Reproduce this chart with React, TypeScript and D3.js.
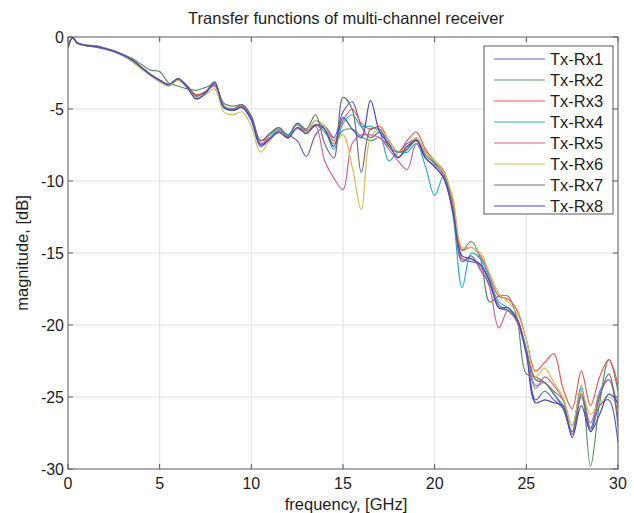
import { useEffect, useRef } from "react";
import * as d3 from "d3";

// frequency samples in GHz (shared by all channels)
const freq = [0, 0.25, 0.5, 1, 1.5, 2, 2.5, 3, 3.5, 4, 4.5, 5, 5.5, 6, 6.5, 7, 7.5, 8, 8.5, 9, 9.5, 10,
  10.5, 11, 11.5, 12, 12.5, 13, 13.5, 14, 14.5, 15, 15.5, 16, 16.5, 17, 17.5, 18, 18.5, 19, 19.5, 20,
  20.5, 21, 21.5, 22, 22.5, 23, 23.5, 24, 24.5, 25, 25.5, 26, 26.5, 27, 27.5, 28, 28.5, 29, 29.5, 30];

const rx1 = [-0.7, -0.05, -0.45, -0.6, -0.7, -0.85, -1.0, -1.3, -1.7, -2.2,
  -2.7, -3.1, -3.4, -3.0, -3.5, -4.3, -3.9, -3.2, -4.9, -5.1,
  -4.9, -5.8, -7.6, -7.1, -6.6, -6.8, -7.2, -8.3, -6.8, -6.2,
  -7.0, -5.2, -4.5, -6.2, -7.0, -6.6, -7.2, -8.0, -7.4, -7.1,
  -8.4, -9.0, -9.8, -12.0, -15.4, -15.6, -15.8, -17.0, -18.8, -19.0,
  -19.8, -21.8, -25.2, -24.6, -25.2, -25.8, -27.6, -25.0, -27.4, -25.6, -25.2, -28.2];
const rx2 = [-0.7, -0.05, -0.4, -0.55, -0.6, -0.75, -0.95, -1.2, -1.5, -1.9,
  -2.3, -2.4, -3.2, -3.4, -3.6, -3.7, -3.5, -3.3, -4.6, -4.8,
  -4.7, -5.5, -7.2, -6.8, -6.3, -6.8, -6.0, -6.5, -6.1, -6.6,
  -7.4, -6.5, -6.4, -6.9, -7.2, -7.0, -7.6, -8.3, -7.8, -7.0,
  -8.0, -8.7, -9.4, -11.4, -14.8, -14.2, -15.4, -18.4, -18.0, -18.0,
  -19.6, -23.4, -23.6, -24.0, -24.6, -25.2, -27.0, -24.2, -29.8, -25.4, -22.4, -24.6];
const rx3 = [-0.7, -0.05, -0.4, -0.6, -0.65, -0.8, -1.0, -1.25, -1.6, -2.1,
  -2.6, -3.0, -3.3, -2.9, -3.4, -4.0, -3.8, -3.4, -4.8, -5.0,
  -4.8, -5.6, -7.2, -7.0, -6.5, -7.0, -6.3, -6.5, -6.1, -6.2,
  -7.2, -5.8, -5.0, -6.0, -6.4, -6.2, -7.2, -8.0, -7.2, -6.6,
  -7.8, -8.6, -9.3, -11.6, -14.8, -14.6, -15.2, -16.6, -18.0, -18.2,
  -19.0, -21.0, -23.2, -22.6, -22.0, -24.4, -25.8, -23.2, -25.6, -23.6, -22.4, -24.2];
const rx4 = [-0.7, -0.05, -0.4, -0.6, -0.65, -0.8, -1.0, -1.3, -1.6, -2.1,
  -2.6, -3.0, -3.3, -2.9, -3.4, -4.1, -3.8, -3.3, -4.9, -5.0,
  -4.8, -5.8, -7.4, -7.0, -6.4, -6.8, -6.1, -6.6, -5.8, -6.4,
  -7.8, -6.0, -5.4, -6.2, -6.2, -6.6, -8.6, -8.0, -8.0, -7.4,
  -9.0, -11.0, -9.6, -12.4, -17.4, -15.0, -15.4, -16.8, -18.4, -18.8,
  -19.6, -21.6, -24.2, -24.0, -24.8, -25.6, -27.4, -24.4, -27.2, -24.6, -23.8, -25.8];
const rx5 = [-0.7, -0.05, -0.4, -0.6, -0.65, -0.8, -1.0, -1.25, -1.6, -2.1,
  -2.6, -3.0, -3.35, -2.9, -3.4, -4.1, -3.8, -3.3, -4.8, -5.0,
  -4.8, -5.6, -7.4, -7.0, -6.6, -7.0, -6.3, -6.7, -6.2, -8.6,
  -9.8, -10.6, -7.4, -6.8, -6.8, -7.0, -7.8, -8.6, -9.2, -7.4,
  -8.4, -9.0, -9.8, -12.0, -15.4, -15.4, -16.0, -17.4, -20.2, -19.0,
  -19.8, -22.0, -24.4, -23.6, -24.2, -25.2, -27.6, -24.8, -26.8, -24.8, -23.8, -26.4];
const rx6 = [-0.7, -0.05, -0.4, -0.6, -0.65, -0.8, -1.0, -1.3, -1.7, -2.2,
  -2.7, -3.1, -3.4, -3.0, -3.5, -4.2, -4.0, -3.6, -5.2, -5.4,
  -5.2, -6.2, -8.0, -7.2, -6.6, -6.9, -6.4, -6.6, -5.8, -6.2,
  -7.4, -6.8, -9.0, -12.0, -7.0, -6.4, -7.2, -8.0, -7.6, -7.0,
  -8.0, -8.6, -9.4, -11.2, -14.6, -14.6, -15.0, -16.4, -17.8, -18.4,
  -19.2, -21.0, -23.6, -23.0, -24.0, -25.0, -27.0, -24.6, -26.2, -25.4, -25.0, -25.6];
const rx7 = [-0.7, -0.05, -0.4, -0.6, -0.65, -0.8, -1.0, -1.25, -1.6, -2.1,
  -2.6, -3.0, -3.3, -2.9, -3.4, -4.1, -3.8, -3.3, -4.8, -5.0,
  -4.7, -5.5, -7.2, -6.7, -6.3, -6.9, -6.0, -6.4, -5.4, -7.4,
  -8.4, -4.2, -5.0, -9.4, -6.4, -6.4, -7.6, -8.0, -7.8, -7.2,
  -8.2, -8.8, -9.6, -12.0, -15.6, -15.2, -16.2, -17.2, -18.6, -19.0,
  -19.6, -21.8, -23.8, -24.0, -24.8, -25.8, -27.4, -24.8, -27.2, -25.0, -23.4, -27.0];
const rx8 = [-0.7, -0.05, -0.4, -0.6, -0.65, -0.8, -1.0, -1.25, -1.6, -2.1,
  -2.6, -3.0, -3.3, -2.9, -3.5, -4.3, -3.9, -3.1, -4.9, -5.1,
  -4.9, -5.7, -7.5, -7.1, -6.6, -7.0, -6.3, -6.7, -6.1, -6.4,
  -7.6, -5.6, -6.4, -7.0, -4.4, -6.6, -7.4, -8.4, -7.6, -7.2,
  -8.4, -9.0, -9.8, -12.2, -15.2, -15.4, -15.8, -17.0, -18.8, -18.8,
  -19.6, -22.0, -25.4, -25.2, -25.4, -25.6, -27.8, -25.6, -27.4, -26.2, -24.8, -25.4];

const names = ["Tx-Rx1", "Tx-Rx2", "Tx-Rx3", "Tx-Rx4", "Tx-Rx5", "Tx-Rx6", "Tx-Rx7", "Tx-Rx8"];
const colors = ["#6060d8", "#5f8f6e", "#f2594f", "#2aaed0", "#dc5f9c", "#d3c052", "#727272", "#4848c4"];
const xTicks = [0, 5, 10, 15, 20, 25, 30];
const yTicks = [0, -5, -10, -15, -20, -25, -30];

const W = 634;
const H = 513;
const margin = { top: 37, right: 16, bottom: 44, left: 68 };

export default function App() {
  const svgRef = useRef<SVGSVGElement>(null);

  useEffect(() => {
    const svg = d3.select(svgRef.current);
    svg.selectAll("*").remove();

    const width = W - margin.left - margin.right;
    const height = H - margin.top - margin.bottom;
    const font = "Liberation Sans, Arial, sans-serif";
    const textColor = "#1e1e1e";

    const x = d3.scaleLinear().domain([0, 30]).range([margin.left, margin.left + width]);
    const y = d3.scaleLinear().domain([-30, 0]).range([margin.top + height, margin.top]);

    svg.append("rect").attr("width", W).attr("height", H).attr("fill", "#fff");

    // grid
    const grid = svg.append("g").attr("stroke", "#e2e2e2").attr("stroke-width", 1);
    grid.selectAll(".gx").data(xTicks.slice(1, -1)).enter().append("line")
      .attr("x1", (d) => x(d)).attr("x2", (d) => x(d))
      .attr("y1", margin.top).attr("y2", margin.top + height);
    grid.selectAll(".gy").data(yTicks.slice(1, -1)).enter().append("line")
      .attr("y1", (d) => y(d)).attr("y2", (d) => y(d))
      .attr("x1", margin.left).attr("x2", margin.left + width);

    svg.append("clipPath").attr("id", "plot-clip").append("rect")
      .attr("x", margin.left).attr("y", margin.top).attr("width", width).attr("height", height);

    const series = [rx1, rx2, rx3, rx4, rx5, rx6, rx7, rx8];
    const line = d3.line<number>()
      .x((_, i) => x(freq[i]))
      .y((d) => y(d))
      .curve(d3.curveCatmullRom.alpha(0.5));

    svg.append("g").attr("clip-path", "url(#plot-clip)")
      .selectAll("path").data(series).enter().append("path")
      .attr("d", (d) => line(d))
      .attr("fill", "none")
      .attr("stroke", (_, i) => colors[i])
      .attr("stroke-width", 1.2);

    // frame with inward ticks
    const axisColor = "#5a5a5a";
    svg.append("rect")
      .attr("x", margin.left).attr("y", margin.top).attr("width", width).attr("height", height)
      .attr("fill", "none").attr("stroke", axisColor).attr("stroke-width", 1);
    const tk = svg.append("g").attr("stroke", axisColor);
    xTicks.forEach((t) => {
      tk.append("line").attr("x1", x(t)).attr("x2", x(t)).attr("y1", margin.top + height).attr("y2", margin.top + height - 5);
      tk.append("line").attr("x1", x(t)).attr("x2", x(t)).attr("y1", margin.top).attr("y2", margin.top + 5);
    });
    yTicks.forEach((t) => {
      tk.append("line").attr("y1", y(t)).attr("y2", y(t)).attr("x1", margin.left).attr("x2", margin.left + 5);
      tk.append("line").attr("y1", y(t)).attr("y2", y(t)).attr("x1", margin.left + width).attr("x2", margin.left + width - 5);
    });

    svg.append("g").selectAll("text").data(xTicks).enter().append("text")
      .attr("x", (d) => x(d)).attr("y", margin.top + height + 20)
      .attr("text-anchor", "middle").attr("font-family", font).attr("font-size", 16).attr("fill", textColor)
      .text((d) => d);
    svg.append("g").selectAll("text").data(yTicks).enter().append("text")
      .attr("x", margin.left - 4).attr("y", (d) => y(d) + 6)
      .attr("text-anchor", "end").attr("font-family", font).attr("font-size", 16).attr("fill", textColor)
      .text((d) => d);

    svg.append("text")
      .attr("x", 346).attr("y", 24)
      .attr("text-anchor", "middle").attr("font-family", font).attr("font-size", 16.5).attr("fill", textColor)
      .text("Transfer functions of multi-channel receiver");
    svg.append("text")
      .attr("x", 346).attr("y", 510)
      .attr("text-anchor", "middle").attr("font-family", font).attr("font-size", 16.5).attr("fill", textColor)
      .text("frequency, [GHz]");
    svg.append("text")
      .attr("transform", `translate(28,${margin.top + height / 2}) rotate(-90)`)
      .attr("text-anchor", "middle").attr("font-family", font).attr("font-size", 16.5).attr("fill", textColor)
      .text("magnitude, [dB]");

    // legend
    const lg = svg.append("g").attr("transform", "translate(484,46)");
    lg.append("rect").attr("width", 129).attr("height", 168)
      .attr("fill", "#fff").attr("stroke", axisColor).attr("stroke-width", 1);
    names.forEach((n, i) => {
      const yy = 13 + i * 21;
      lg.append("line").attr("x1", 10).attr("x2", 61).attr("y1", yy).attr("y2", yy)
        .attr("stroke", colors[i]).attr("stroke-width", 1.2);
      lg.append("text").attr("x", 66).attr("y", yy + 6)
        .attr("font-family", font).attr("font-size", 16.5).attr("fill", textColor).text(n);
    });
  }, []);

  return (
    <svg ref={svgRef} width={W} height={H} style={{ position: "absolute", left: 0, top: 0 }} />
  );
}
